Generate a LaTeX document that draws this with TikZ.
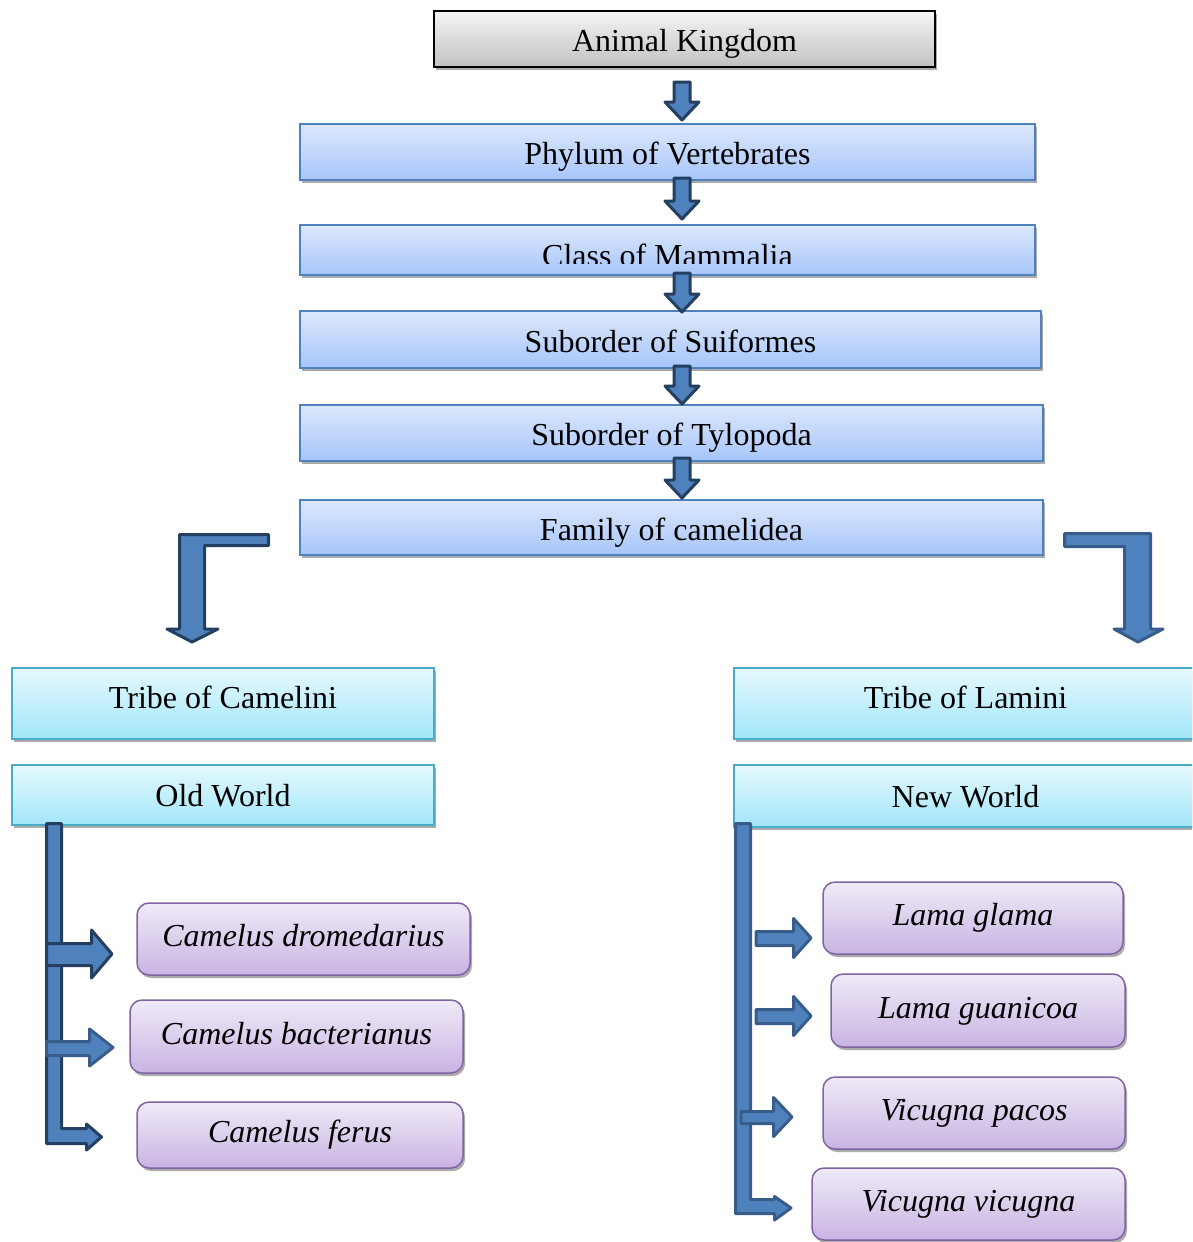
\documentclass[tikz,border=0pt]{standalone}
\usepackage{fontspec}
\setmainfont{Liberation Serif}
\usetikzlibrary{shadows}
\definecolor{arrfill}{HTML}{4F81BD}
\definecolor{arrdark}{HTML}{243F60}
\definecolor{arrmid}{HTML}{385D8A}
\definecolor{bluetop}{HTML}{DDE8FC}
\definecolor{bluebot}{HTML}{A6C5FA}
\definecolor{blueline}{HTML}{4F81BD}
\definecolor{cyantop}{HTML}{E5F9FE}
\definecolor{cyanbot}{HTML}{A2E6FA}
\definecolor{cyanline}{HTML}{4BACC6}
\definecolor{purptop}{HTML}{F0EAF7}
\definecolor{purpbot}{HTML}{C8B4E3}
\definecolor{purpline}{HTML}{8064A2}
\newcommand\mydnarrow[3]{\draw[darkarrow] ({#1-8},#2) -- ({#1+8},#2) -- ({#1+8},{#3-18}) -- ({#1+17},{#3-18}) -- (#1,#3) -- ({#1-17},{#3-18}) -- ({#1-8},{#3-18}) -- cycle;}
\begin{document}
\begin{tikzpicture}[x=1pt,y=-1pt,
 every node/.style={font=\fontsize{32}{38}\selectfont, inner sep=0pt},
 boxshadow/.style={drop shadow={shadow xshift=2pt,shadow yshift=-3pt,fill=black!55,opacity=0.6}},
 graybox/.style={draw=black, line width=1.5pt, top color=black!4, bottom color=black!24, boxshadow, text height=27pt, text depth=2pt},
 bluebox/.style={draw=blueline, line width=1.2pt, top color=bluetop, bottom color=bluebot, boxshadow, text height=27pt, text depth=2pt},
 tribebox/.style={draw=cyanline, line width=1.2pt, top color=cyantop, bottom color=cyanbot, boxshadow, text height=22pt, text depth=13pt},
 worldbox/.style={tribebox, text height=24pt, text depth=2pt},
 speciesbox/.style={draw=purpline, line width=1.5pt, rounded corners=12pt, top color=purptop, bottom color=purpbot, boxshadow, text height=22pt, text depth=7pt, font=\fontsize{32}{38}\selectfont\itshape},
 darkarrow/.style={fill=arrfill, draw=arrdark, line width=3pt, line join=round},
 midarrow/.style={fill=arrfill, draw=arrmid, line width=3pt, line join=round},
]
\useasboundingbox (0,0) rectangle (1192,1242);
\clip (0,0) rectangle (1192,1242);
\fill[white] (0,0) rectangle (1192,1242);

% hierarchy boxes
\node[graybox, minimum width=501pt, minimum height=56pt] (ak) at (684.5,39) {Animal Kingdom};
\node[bluebox, minimum width=735pt, minimum height=56pt] (ph) at (667.5,152) {Phylum of Vertebrates};
\node[bluebox, minimum width=735pt, minimum height=50pt] (cl) at (667.5,250) {};
\begin{scope}
\clip (300,225) rectangle (1035,263);
\node[anchor=base] (clt) at (667.5,266) {Class of Mammalia};
\end{scope}
\node[bluebox, minimum width=741pt, minimum height=57pt] (su) at (670.5,339.5) {Suborder of Suiformes};
\node[bluebox, minimum width=743pt, minimum height=56pt] (ty) at (671.5,433) {Suborder of Tylopoda};
\node[bluebox, minimum width=743pt, minimum height=55pt] (fa) at (671.5,527.5) {Family of camelidea};

% tribes
\node[tribebox, minimum width=422pt, minimum height=71pt] (tc) at (223,703.5) {Tribe of Camelini};
\node[tribebox, minimum width=463pt, minimum height=71pt] (tl) at (965.5,703.5) {Tribe of Lamini};
\node[worldbox, minimum width=422pt, minimum height=60pt] (ow) at (223,795) {Old World};
\node[worldbox, minimum width=463pt, minimum height=62pt] (nw) at (965.5,796) {New World};

% species
\node[speciesbox, minimum width=333pt, minimum height=72pt] (cd) at (303.5,939) {Camelus dromedarius};
\node[speciesbox, minimum width=333pt, minimum height=73pt] (cb) at (296.5,1036.5) {Camelus bacterianus};
\node[speciesbox, minimum width=326pt, minimum height=66pt] (cf) at (300,1135) {Camelus ferus};
\node[speciesbox, minimum width=300pt, minimum height=72pt] (lg) at (973,918) {Lama glama};
\node[speciesbox, minimum width=294pt, minimum height=73pt] (lu) at (978,1010.5) {Lama guanicoa};
\node[speciesbox, minimum width=302pt, minimum height=72pt] (vp) at (974,1113) {Vicugna pacos};
\node[speciesbox, minimum width=313pt, minimum height=72pt] (vv) at (968.5,1204) {Vicugna vicugna};

% down arrows between levels
\mydnarrow{682}{82}{120}
\mydnarrow{682}{178}{219}
\mydnarrow{682}{273}{312}
\mydnarrow{682}{366}{404}
\mydnarrow{682}{458}{498}

% bent arrows to tribes
\draw[darkarrow] (268.5,534.5) -- (179.5,534.5) -- (179.5,629) -- (167,629) -- (192,642) -- (218,629) -- (204.5,629) -- (204.5,545.5) -- (268.5,545.5) -- cycle;
\draw[midarrow] (1064.5,533.5) -- (1150.5,533.5) -- (1150.5,629) -- (1163,629) -- (1138,642) -- (1114,629) -- (1124.5,629) -- (1124.5,546.5) -- (1064.5,546.5) -- cycle;

% old world bracket
\draw[darkarrow] (46.5,823.5) -- (61.5,823.5) -- (61.5,1128.5) -- (86.5,1128.5) -- (86.5,1124) -- (101.5,1137) -- (86.5,1150) -- (86.5,1143.5) -- (46.5,1143.5) -- cycle;
\draw[darkarrow] (46.5,943.5) -- (91.5,943.5) -- (91.5,930) -- (112,954) -- (91.5,978) -- (91.5,965.5) -- (46.5,965.5) -- cycle;
\draw[midarrow] (46.5,1041.5) -- (89.5,1041.5) -- (89.5,1029) -- (113,1047.5) -- (89.5,1066) -- (89.5,1055.5) -- (46.5,1055.5) -- cycle;

% new world bracket
\draw[midarrow] (735.5,823.5) -- (750.5,823.5) -- (750.5,1199.5) -- (774.5,1199.5) -- (774.5,1196.5) -- (791,1208) -- (774.5,1220) -- (774.5,1213.5) -- (735.5,1213.5) -- cycle;
\draw[midarrow] (756,931.5) -- (793.5,931.5) -- (793.5,918.5) -- (811,938) -- (793.5,957.5) -- (793.5,945.5) -- (756,945.5) -- cycle;
\draw[midarrow] (756,1009.5) -- (793.5,1009.5) -- (793.5,996.5) -- (811,1016) -- (793.5,1035.5) -- (793.5,1023.5) -- (756,1023.5) -- cycle;
\draw[midarrow] (741,1111.5) -- (773.5,1111.5) -- (773.5,1097.5) -- (792,1117) -- (773.5,1136.5) -- (773.5,1123.5) -- (741,1123.5) -- cycle;
\end{tikzpicture}
\end{document}
